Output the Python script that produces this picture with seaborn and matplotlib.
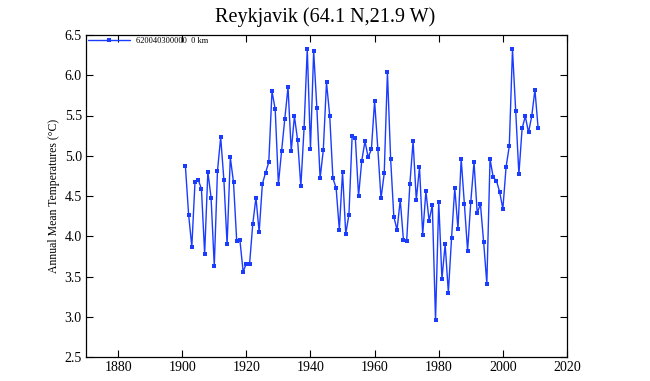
import matplotlib
matplotlib.use("Agg")
import matplotlib.pyplot as plt
import seaborn as sns
import pandas as pd
import numpy as np

years = list(range(1901, 2012))
temps = [
    4.87, 4.27, 3.87, 4.68, 4.70, 4.59, 3.78, 4.80, 4.48, 3.63,  # 1901-1910
    4.81, 5.23, 4.70, 3.90, 4.98, 4.67, 3.94, 3.95, 3.56, 3.66,  # 1911-1920
    3.65, 4.15, 4.48, 4.05, 4.65, 4.79, 4.92, 5.80, 5.58, 4.65,  # 1921-1930
    5.06, 5.46, 5.85, 5.06, 5.49, 5.19, 4.62, 5.34, 6.33, 5.09,  # 1931-1940
    6.30, 5.59, 4.72, 5.07, 5.91, 5.50, 4.72, 4.60, 4.08, 4.80,  # 1941-1950
    4.03, 4.27, 5.25, 5.22, 4.50, 4.94, 5.18, 4.98, 5.08, 5.68,  # 1951-1960
    5.09, 4.47, 4.78, 6.04, 4.96, 4.24, 4.08, 4.45, 3.95, 3.94,  # 1961-1970
    4.65, 5.18, 4.45, 4.86, 4.02, 4.56, 4.19, 4.39, 2.96, 4.43,  # 1971-1980
    3.47, 3.90, 3.30, 3.98, 4.60, 4.09, 4.96, 4.40, 3.82, 4.43,  # 1981-1990
    4.92, 4.29, 4.40, 3.93, 3.41, 4.96, 4.73, 4.69, 4.55, 4.34,  # 1991-2000
    4.86, 5.12, 6.32, 5.56, 4.77, 5.34, 5.49, 5.29, 5.49, 5.82,  # 2001-2010
    5.34,                                                        # 2011
]
x_ticks = [1880, 1900, 1920, 1940, 1960, 1980, 2000, 2020]
y_ticks = [2.5, 3.0, 3.5, 4.0, 4.5, 5.0, 5.5, 6.0, 6.5]
series_label = "620040300000  0 km"
title = "Reykjavik (64.1 N,21.9 W)"
y_label = "Annual Mean Temperatures (\u00b0C)"

df = pd.DataFrame({"year": years, "temp": temps})

sns.set_style("ticks")
plt.rcParams["font.family"] = ["Liberation Serif", "DejaVu Serif"]
plt.rcParams["text.color"] = "black"
plt.rcParams["axes.labelcolor"] = "black"

fig = plt.figure(figsize=(6.5, 3.81), dpi=100)
ax = fig.add_axes([86 / 650, 1 - 357 / 381, (567 - 86) / 650, (357 - 35) / 381])

sns.lineplot(data=df, x="year", y="temp", ax=ax, color="#1a3cff",
             marker="s", markersize=3.4, markeredgewidth=0, linewidth=1.0,
             label=series_label)

ax.set_xlim(1870, 2020)
ax.set_ylim(2.5, 6.5)
ax.set_xticks(x_ticks)
ax.set_yticks(y_ticks)
ax.set_yticklabels([f"{v:.1f}" for v in y_ticks])
ax.tick_params(direction="in", top=True, right=True, length=5, width=0.8,
               labelsize=10, colors="black", pad=3)
for s in ax.spines.values():
    s.set_linewidth(0.9)
    s.set_color("black")
ax.set_xlabel("")
ax.set_ylabel(y_label, fontsize=8.5, labelpad=3)
fig.text(0.5, 1 - 17 / 381, title, ha="center", va="center", fontsize=14.5)

leg = ax.legend(loc="upper left", frameon=False, fontsize=6,
                handlelength=5.0, borderaxespad=0.05, borderpad=0.2,
                handletextpad=0.7)

fig.savefig("out.png", dpi=100)
